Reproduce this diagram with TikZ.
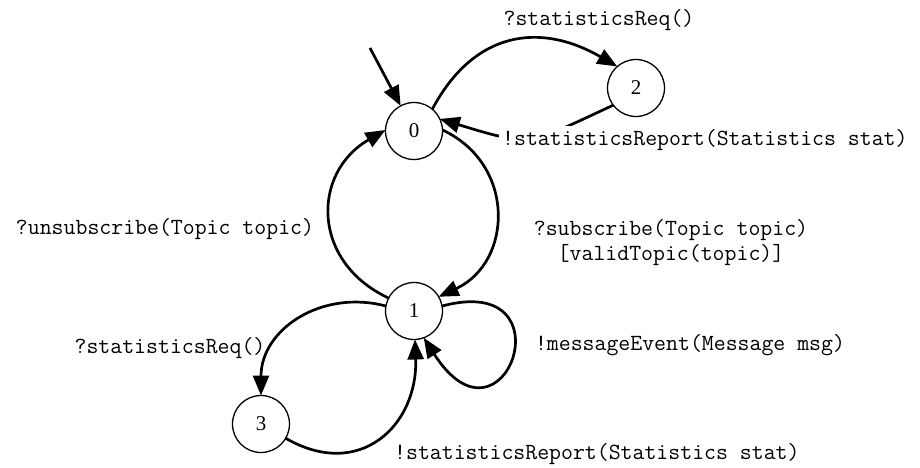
\documentclass[tikz,border=0pt]{standalone}
\usepackage{fontspec}
\setmainfont{Liberation Serif}
\usetikzlibrary{arrows.meta}

\begin{document}
\begin{tikzpicture}[x=1pt,y=1pt,
  st/.style={draw,circle,line width=1.3pt,minimum size=57pt,inner sep=0pt,outer sep=0pt,font=\fontsize{21}{24}\selectfont},
  lbl/.style={font=\ttfamily\fontsize{23.15}{25}\selectfont,inner sep=0pt,align=center},
  trans/.style={line width=2.7pt,-{Triangle[length=20pt,width=16pt]}}]
\useasboundingbox (0,0) rectangle (920,-468);
%================================================================
%	States
\node[st] (n0) at (414,-131) {0};
\node[st] (n2) at (636,-88) {2};
\node[st] (n1) at (414,-311) {1};
\node[st] (n3) at (261,-424) {3};
\coordinate (start) at (370,-48);

%================================================================
%	Transitions
\draw[trans] (start) -- (n0);
\draw[trans] (n0.50) to[out=62,in=150,looseness=1.2] (n2.131);
\draw[trans] (n2.217) to[out=-155,in=-17,looseness=1.4] (n0.25);
%----------------------------------------------------------------
\draw[trans] (n0.2) to[out=-25,in=25,looseness=1.25] (n1.30);
\draw[trans] (n1.153) to[out=155,in=-150,looseness=1.3] (n0.178);
%----------------------------------------------------------------
\draw[trans] (n1.10) .. controls +(130,35) and +(80,-125) .. (n1.-70);
\draw[trans] (n1.170) to[out=165,in=90,looseness=1.1] (n3.90);
\draw[trans] (n3.-30) to[out=-30,in=-88,looseness=1.35] (n1.-88);

%================================================================
%	Labels
\node[lbl] (l02) at (599,-20) {?statisticsReq()};
\node[lbl,fill=white,inner sep=3pt,anchor=west] (l20) at (499,-140) {!statisticsReport(Statistics stat)};
\node[lbl] (l10) at (165,-229) {?unsubscribe(Topic topic)};
\node[lbl] (l01) at (671,-242.5) {?subscribe(Topic topic)\\{[validTopic(topic)]}};
%----------------------------------------------------------------
\node[lbl] (l13) at (170,-348) {?statisticsReq()};
\node[lbl] (l11) at (690,-345) {!messageEvent(Message msg)};
\node[lbl,anchor=west] (l31) at (394,-454) {!statisticsReport(Statistics stat)};
%================================================================
\end{tikzpicture}
\end{document}
